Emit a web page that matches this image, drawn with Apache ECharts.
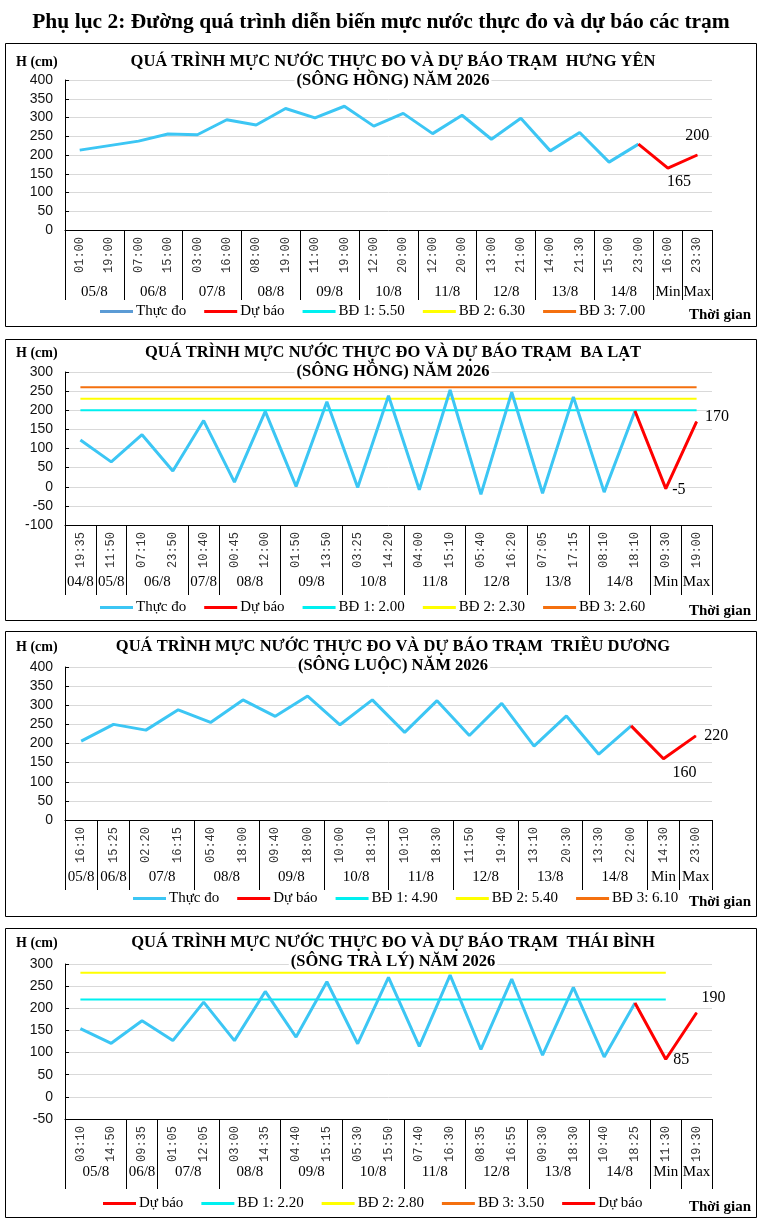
<!DOCTYPE html>
<html>
<head>
<meta charset="utf-8">
<title>Mực nước thực đo và dự báo</title>
<script src="https://cdn.jsdelivr.net/npm/echarts@6/dist/echarts.min.js"></script>
<style>
  html, body { margin: 0; padding: 0; background: #fff; }
  #main { width: 762px; height: 1223px; }
</style>
</head>
<body>
<div id="main"></div>
<script>
// ---- Hưng Yên (sông Hồng)
var hyTimes = ['01:00', '19:00', '07:00', '15:00', '03:00', '16:00', '08:00', '19:00', '11:00', '19:00', '12:00', '20:00', '12:00', '20:00', '13:00', '21:00', '14:00', '21:30', '15:00', '23:00', '16:00', '23:30'];
var hyDates = ['05/8', '05/8', '06/8', '06/8', '07/8', '07/8', '08/8', '08/8', '09/8', '09/8', '10/8', '10/8', '11/8', '11/8', '12/8', '12/8', '13/8', '13/8', '14/8', '14/8', 'Min', 'Max'];
var hyObserved = [213, 225, 237, 256, 254, 294, 280, 324, 299, 330, 277, 311, 257, 306, 242, 298, 211, 260, 181, 229];
var hyForecast = [165, 200];
var hyAlerts = [550, 630, 700];
var hyAlertNames = ['BĐ 1: 5.50', 'BĐ 2: 6.30', 'BĐ 3: 7.00'];

// ---- Ba Lạt (sông Hồng)
var blTimes = ['19:35', '11:50', '07:10', '23:50', '10:40', '00:45', '12:00', '01:50', '13:50', '03:25', '14:20', '04:00', '15:10', '05:40', '16:20', '07:05', '17:15', '08:10', '18:10', '09:30', '19:00'];
var blDates = ['04/8', '05/8', '06/8', '06/8', '07/8', '08/8', '08/8', '09/8', '09/8', '10/8', '10/8', '11/8', '11/8', '12/8', '12/8', '13/8', '13/8', '14/8', '14/8', 'Min', 'Max'];
var blObserved = [122, 65, 136, 41, 173, 12, 197, 1, 222, -2, 238, -8, 253, -20, 247, -17, 235, -14, 198];
var blForecast = [-5, 170];
var blAlerts = [200, 230, 260];
var blAlertNames = ['BĐ 1: 2.00', 'BĐ 2: 2.30', 'BĐ 3: 2.60'];

// ---- Triều Dương (sông Luộc)
var tdTimes = ['16:10', '15:25', '02:20', '16:15', '05:40', '18:00', '09:40', '18:00', '10:00', '18:10', '10:10', '18:30', '11:50', '19:40', '13:10', '20:30', '13:30', '22:00', '14:30', '23:00'];
var tdDates = ['05/8', '06/8', '07/8', '07/8', '08/8', '08/8', '09/8', '09/8', '10/8', '10/8', '11/8', '11/8', '12/8', '12/8', '13/8', '13/8', '14/8', '14/8', 'Min', 'Max'];
var tdObserved = [206, 250, 235, 288, 255, 314, 271, 324, 249, 314, 229, 312, 221, 305, 193, 272, 172, 246];
var tdForecast = [160, 220];
var tdAlerts = [490, 540, 610];
var tdAlertNames = ['BĐ 1: 4.90', 'BĐ 2: 5.40', 'BĐ 3: 6.10'];

// ---- Thái Bình (sông Trà Lý)
var tbTimes = ['03:10', '14:50', '09:35', '01:05', '12:05', '03:00', '14:35', '04:40', '15:15', '05:30', '15:50', '07:40', '16:30', '08:35', '16:55', '09:30', '18:30', '10:40', '18:25', '11:30', '19:30'];
var tbDates = ['05/8', '05/8', '06/8', '07/8', '07/8', '08/8', '08/8', '09/8', '09/8', '10/8', '10/8', '11/8', '11/8', '12/8', '12/8', '13/8', '13/8', '14/8', '14/8', 'Min', 'Max'];
var tbObserved = [154, 121, 172, 127, 214, 127, 238, 135, 260, 120, 270, 114, 275, 107, 266, 94, 247, 90, 212];
var tbForecast = [85, 190];
var tbAlerts = [220, 280, 350];
var tbAlertNames = ['BĐ 1: 2.20', 'BĐ 2: 2.80', 'BĐ 3: 3.50'];

var OBS_COLOR = '#3cc6f4';
var FC_COLOR = '#ff0000';
var ALERT_COLORS = ['#00f0f0', '#ffff00', '#f4700f'];
var SERIF = '"Liberation Serif", "Times New Roman", serif';

var panels = [{
  times: hyTimes, dates: hyDates, observed: hyObserved, forecast: hyForecast,
  alerts: hyAlerts, alertNames: hyAlertNames, obsName: 'Thực đo', obsLegendColor: '#5b9bd5',
  title: 'QUÁ TRÌNH MỰC NƯỚC THỰC ĐO VÀ DỰ BÁO TRẠM  HƯNG YÊN', sub: '(SÔNG HỒNG) NĂM 2026',
  box: [43, 326], titleY: 62, top: 80, height: 150, min: 0, max: 400,
  dateMargin: 55, legendTop: 304, legendLeft: 100, alertToMax: true,
  minLabel: { position: 'bottom', distance: 5, offset: [11, 0] },
  maxLabel: { position: 'top', distance: 11, offset: [0, 0] }
}, {
  times: blTimes, dates: blDates, observed: blObserved, forecast: blForecast,
  alerts: blAlerts, alertNames: blAlertNames, obsName: 'Thực đo', obsLegendColor: OBS_COLOR,
  title: 'QUÁ TRÌNH MỰC NƯỚC THỰC ĐO VÀ DỰ BÁO TRẠM  BA LẠT', sub: '(SÔNG HỒNG) NĂM 2026',
  box: [339, 620], titleY: 353, top: 372, height: 153, min: -100, max: 300,
  dateMargin: 50, legendTop: 600, legendLeft: 100, alertToMax: true,
  minLabel: { position: 'right', distance: 6, offset: [0, 1] },
  maxLabel: { position: 'right', distance: 8, offset: [0, -5] }
}, {
  times: tdTimes, dates: tdDates, observed: tdObserved, forecast: tdForecast,
  alerts: tdAlerts, alertNames: tdAlertNames, obsName: 'Thực đo', obsLegendColor: OBS_COLOR,
  title: 'QUÁ TRÌNH MỰC NƯỚC THỰC ĐO VÀ DỰ BÁO TRẠM  TRIỀU DƯƠNG', sub: '(SÔNG LUỘC) NĂM 2026',
  box: [631, 916], titleY: 647, top: 667, height: 153, min: 0, max: 400,
  dateMargin: 50, legendTop: 891, legendLeft: 133, alertToMax: true,
  minLabel: { position: 'bottom', distance: 5, offset: [21, 0] },
  maxLabel: { position: 'right', distance: 8, offset: [0, 0] }
}, {
  times: tbTimes, dates: tbDates, observed: tbObserved, forecast: tbForecast,
  alerts: tbAlerts, alertNames: tbAlertNames, obsName: 'Dự báo ', obsLegendColor: FC_COLOR,
  title: 'QUÁ TRÌNH MỰC NƯỚC THỰC ĐO VÀ DỰ BÁO TRẠM  THÁI BÌNH', sub: '(SÔNG TRÀ LÝ) NĂM 2026',
  box: [928, 1217], titleY: 943, top: 964, height: 155, min: -50, max: 300,
  dateMargin: 46, legendTop: 1196, legendLeft: 103, alertToMax: false,
  minLabel: { position: 'right', distance: 7, offset: [0, 1] },
  maxLabel: { position: 'top', distance: 6, offset: [17, 0] }
}];

function groupsOf(dates) {
  var out = [];
  for (var i = 0; i < dates.length; i++) {
    if (i === 0 || dates[i] !== dates[i - 1]) out.push({ label: dates[i], start: i, end: i + 1 });
    else out[out.length - 1].end = i + 1;
  }
  return out;
}

var grids = [], xAxes = [], yAxes = [], series = [], legends = [], graphics = [];

graphics.push({
  type: 'text', x: 381, y: 22, z: 100,
  style: { text: 'Phụ lục 2: Đường quá trình diễn biến mực nước thực đo và dự báo các trạm', font: 'bold 21.5px ' + SERIF, fill: '#000', align: 'center', verticalAlign: 'middle' }
});

panels.forEach(function (p, k) {
  var nCat = p.times.length;
  var nObs = p.observed.length;
  var groups = groupsOf(p.dates);
  var bounds = [0].concat(groups.map(function (g) { return g.end; }));
  var centers = groups.map(function (g) { return (g.start + g.end) / 2; });

  grids.push({ left: 65, width: 647, top: p.top, height: p.height });

  xAxes.push({
    type: 'category', gridIndex: k, data: p.times, position: 'bottom',
    axisLine: { onZero: false, lineStyle: { color: '#000', width: 1 } },
    axisTick: { show: false },
    axisLabel: { rotate: 90, interval: 0, margin: 7, fontFamily: '"Liberation Mono", "Courier New", monospace', fontSize: 12, color: '#333' },
    splitLine: { show: false }
  });
  xAxes.push({
    type: 'value', gridIndex: k, position: 'bottom', min: 0, max: nCat,
    axisLine: { show: false, onZero: false },
    splitLine: { show: false },
    axisTick: { show: true, customValues: bounds, length: 70, lineStyle: { color: '#000', width: 1 } },
    axisLabel: {
      customValues: centers, margin: p.dateMargin, fontFamily: SERIF, fontSize: 15, color: '#000',
      formatter: function (v) {
        for (var i = 0; i < groups.length; i++) if (centers[i] === v) return groups[i].label;
        return '';
      }
    }
  });

  yAxes.push({
    type: 'value', gridIndex: k, min: p.min, max: p.max, interval: 50,
    axisLine: { show: true, lineStyle: { color: '#000', width: 1 } },
    axisTick: { show: true, inside: true, length: 4, lineStyle: { color: '#000' } },
    axisLabel: { margin: 12, fontFamily: '"Liberation Sans", Arial, sans-serif', fontSize: 14, color: '#111' },
    splitLine: { lineStyle: { color: '#d9d9d9', width: 1 } }
  });

  // alert levels
  p.alerts.forEach(function (level, j) {
    var last = p.alertToMax ? nCat - 1 : nCat - 2;
    series.push({
      name: p.alertNames[j], type: 'line', xAxisIndex: 2 * k, yAxisIndex: k,
      data: p.times.map(function (t, i) { return i <= last ? level : null; }),
      symbol: 'none', clip: true, silent: true, animation: false,
      color: ALERT_COLORS[j], lineStyle: { color: ALERT_COLORS[j], width: 2 }, z: 2
    });
  });

  series.push({
    name: p.obsName, type: 'line', xAxisIndex: 2 * k, yAxisIndex: k,
    data: p.observed, symbol: 'none', animation: false,
    color: OBS_COLOR, lineStyle: { color: OBS_COLOR, width: 3 }, z: 3
  });

  var fc = p.times.map(function () { return null; });
  fc[nObs - 1] = p.observed[nObs - 1];
  var lblStyle = { show: true, fontFamily: SERIF, fontSize: 16, color: '#000', formatter: '{c}' };
  fc[nObs] = { value: p.forecast[0], label: Object.assign({}, lblStyle, p.minLabel) };
  fc[nObs + 1] = { value: p.forecast[1], label: Object.assign({}, lblStyle, p.maxLabel) };
  series.push({
    name: 'Dự báo', type: 'line', xAxisIndex: 2 * k, yAxisIndex: k,
    data: fc, symbol: 'circle', symbolSize: 1, showSymbol: true, showAllSymbol: true,
    animation: false, connectNulls: false,
    label: { show: false },
    itemStyle: { color: FC_COLOR },
    color: FC_COLOR, lineStyle: { color: FC_COLOR, width: 3 }, z: 4
  });

  var legendData;
  var alertItems = p.alertNames.map(function (n, j) {
    return { name: n, itemStyle: { color: ALERT_COLORS[j] } };
  });
  if (k === 3) {
    legendData = [{ name: 'Dự báo', itemStyle: { color: FC_COLOR } }].concat(alertItems)
      .concat([{ name: p.obsName, itemStyle: { color: p.obsLegendColor } }]);
  } else {
    legendData = [{ name: p.obsName, itemStyle: { color: p.obsLegendColor } }, { name: 'Dự báo', itemStyle: { color: FC_COLOR } }].concat(alertItems);
  }
  legends.push({
    data: legendData, left: p.legendLeft, top: p.legendTop, icon: 'rect',
    itemWidth: 33, itemHeight: 3, itemGap: 18, padding: 0, selectedMode: false,
    textStyle: { fontFamily: SERIF, fontSize: 15, color: '#000', padding: [0, 0, 0, -2] }
  });

  graphics.push({
    type: 'rect', z: 100, shape: { x: 5.5, y: p.box[0] + 0.5, width: 751, height: p.box[1] - p.box[0] },
    style: { fill: null, stroke: '#000', lineWidth: 1 }
  });
  graphics.push({
    type: 'text', x: 393, y: p.titleY, z: 100,
    style: { text: p.title, font: 'bold 16.5px ' + SERIF, fill: '#000', align: 'center', verticalAlign: 'middle', backgroundColor: '#fff', padding: [0, 2] }
  });
  graphics.push({
    type: 'text', x: 393, y: p.titleY + 19, z: 100,
    style: { text: p.sub, font: 'bold 16.5px ' + SERIF, fill: '#000', align: 'center', verticalAlign: 'middle', backgroundColor: '#fff', padding: [0, 2] }
  });
  graphics.push({
    type: 'text', x: 16, y: p.titleY, z: 100,
    style: { text: 'H (cm)', font: 'bold 14px ' + SERIF, fill: '#000', align: 'left', verticalAlign: 'middle' }
  });
  graphics.push({
    type: 'text', x: 751, y: p.legendTop + 11, z: 100,
    style: { text: 'Thời gian', font: 'bold 15px ' + SERIF, fill: '#000', align: 'right', verticalAlign: 'middle' }
  });
});

var myChart = echarts.init(document.getElementById('main'));
var option = {
  backgroundColor: '#fff',
  animation: false,
  grid: grids,
  xAxis: xAxes,
  yAxis: yAxes,
  legend: legends,
  series: series,
  graphic: graphics
};
myChart.setOption(option);

window.addEventListener('resize', function () {
  myChart.resize();
});
</script>
</body>
</html>
